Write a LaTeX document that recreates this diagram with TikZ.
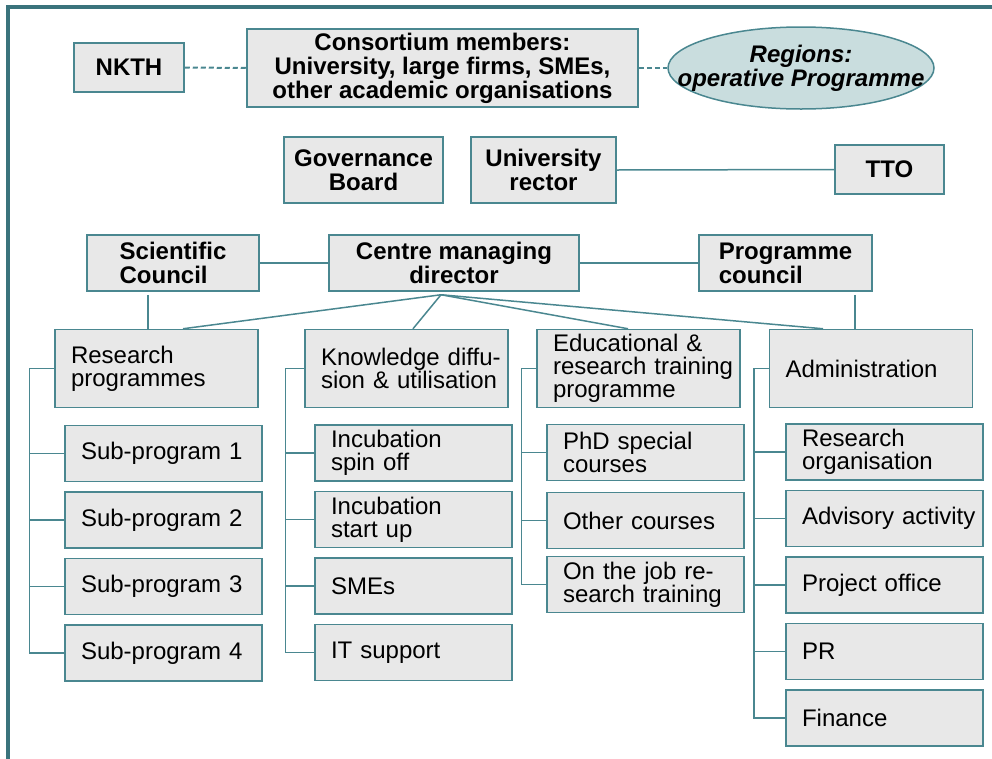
\documentclass[tikz,border=0pt]{standalone}
\usepackage{fontspec}
\setmainfont{Liberation Sans}
\usetikzlibrary{positioning, calc, shapes.geometric}
\definecolor{frameteal}{HTML}{3A737C}
\definecolor{lineteal}{HTML}{4A8790}
\definecolor{boxfill}{HTML}{E8E8E8}
\definecolor{ovalfill}{HTML}{C9DDDE}
\tikzset{
  headbox/.style = {rectangle, draw=lineteal, fill=boxfill, line width=1.5pt, inner sep=2pt, align=center, font=\bfseries\fontsize{24}{24}\selectfont},
  unitbox/.style = {rectangle, draw=lineteal, fill=boxfill, line width=1.5pt, inner xsep=16pt, inner ysep=2pt, text width=171pt, minimum height=78pt, align=left, font=\fontsize{24}{23}\selectfont},
  subbox/.style  = {unitbox, text width=165pt, minimum height=56pt},
  link/.style    = {draw=lineteal, line width=1.5pt},
  dashlink/.style = {draw=lineteal, line width=2pt, dash pattern=on 5pt off 3pt}
}

\begin{document}
\begin{tikzpicture}[x=1pt, y=-1pt]
%PICTURE SCOPE
\useasboundingbox (0,0) rectangle (992,758);
\draw [draw=frameteal, line width=4pt] (8,770) |- (1000,7);
%%TOP ROW
\node (nkth) [headbox, minimum width=110pt, minimum height=49pt] at (129,67.5) {NKTH};
\node (consortium) [headbox, minimum width=391pt, minimum height=78pt] at (442.5,68) {Consortium members:\\University, large firms, SMEs,\\other academic organisations};
\node (regions) [ellipse, draw=lineteal, fill=ovalfill, line width=1.5pt, minimum width=266pt, minimum height=82pt, inner sep=0pt, align=center, font=\bfseries\itshape\fontsize{24}{24}\selectfont] at (801,68) {\makebox[0pt]{Regions:}\\\makebox[0pt]{operative Programme}};
%%GOVERNANCE
\node (governance) [headbox, minimum width=159pt, minimum height=66pt] at (363.5,170) {Governance\\Board};
\node (rector) [headbox, minimum width=145pt, minimum height=66pt] at (543.5,170) {University\\rector};
\node (tto) [headbox, minimum width=109pt, minimum height=49pt] at (889.5,169.5) {TTO};
%%COUNCILS
\node (scientific) [headbox, align=left, minimum width=172pt, minimum height=56pt] at (173,263) {Scientific\\Council};
\node (director) [headbox, minimum width=250pt, minimum height=56pt] at (454,263) {Centre managing\\director};
\node (programme) [headbox, align=left, minimum width=173pt, minimum height=56pt] at (785.5,263) {Programme\\council};
%%UNITS
\node (research) [unitbox] at (156.5,368.5) {Research\\programmes};
\node (knowledge) [unitbox] at (406.5,368.5) {\mbox{Knowledge diffu-}\\\mbox{sion \& utilisation}};
\node (educational) [unitbox] at (638.5,368.5) {Educational \&\\\mbox{research training}\\programme};
\node (admin) [unitbox] at (871,368.5) {Administration};
%%SUB UNITS
\node (rsub1) [subbox] at (163.5,453.5) {Sub-program 1};
\foreach \n [count=\p] in {2,3,4}
  \node (rsub\n) [subbox, below=9pt of rsub\p] {Sub-program \n};
%
\node (ksub1) [subbox] at (413.5,453) {Incubation\\spin off};
\node (ksub2) [subbox, below=9pt of ksub1] {Incubation\\start up};
\node (ksub3) [subbox, below=9pt of ksub2] {SMEs};
\node (ksub4) [subbox, below=9pt of ksub3] {IT support};
%
\node (esub1) [subbox] at (645.5,452.5) {PhD special\\courses};
\node (esub2) [subbox] at (645.5,520.5) {Other courses};
\node (esub3) [subbox] at (645.5,584.5) {On the job re-\\search training};
%
\node (asub1) [subbox] at (884.5,452) {Research\\organisation};
\node (asub2) [subbox, below=9pt of asub1] {\mbox{Advisory activity}};
\node (asub3) [subbox, below=9pt of asub2] {Project office};
\node (asub4) [subbox, below=9pt of asub3] {PR};
\node (asub5) [subbox, below=9pt of asub4] {Finance};
%%CONNECTIONS
\draw [dashlink] (nkth.east) -- (consortium.west);;
\draw [dashlink] (consortium.east) -- (regions.west);;
\draw [link] (rector.east) -- (tto.west);;
\draw [link] (scientific.east) -- (director.west);;
\draw [link] (director.east) -- (programme.west);;
%%COUNCILS TO UNITS
\coordinate (scidrop) at ($(scientific.south)+(-25,3)$);
\coordinate (progdrop) at ($(programme.south)+(69.5,3)$);
\draw [link] (scidrop) -- (scidrop |- research.north);;
\draw [link] (progdrop) -- (progdrop |- admin.north);;
%%DIRECTOR TO UNITS
\coordinate (fan) at ($(director.south)+(-13,3)$);
\draw [link] (fan) -- ($(research.north)+(26.5,0)$);
\draw [link] (fan) -- ($(knowledge.north)+(6.5,0)$);
\draw [link] (fan) -- ($(educational.north)+(-10.5,0)$);
\draw [link] (fan) -- ($(admin.north)+(-48,0)$);
%%UNITS TO SUB UNITS
\foreach \n in {1,...,4} \draw [link] (research.west) -- ++(-25,0) |- (rsub\n.west);
\foreach \n in {1,...,4} \draw [link] (knowledge.west) -- ++(-19,0) |- (ksub\n.west);
\foreach \n in {1,...,3} \draw [link] (educational.west) -- ++(-15,0) |- (esub\n.west);
\foreach \n in {1,...,5} \draw [link] (admin.west) -- ++(-15,0) |- (asub\n.west);
\end{tikzpicture}
\end{document}
